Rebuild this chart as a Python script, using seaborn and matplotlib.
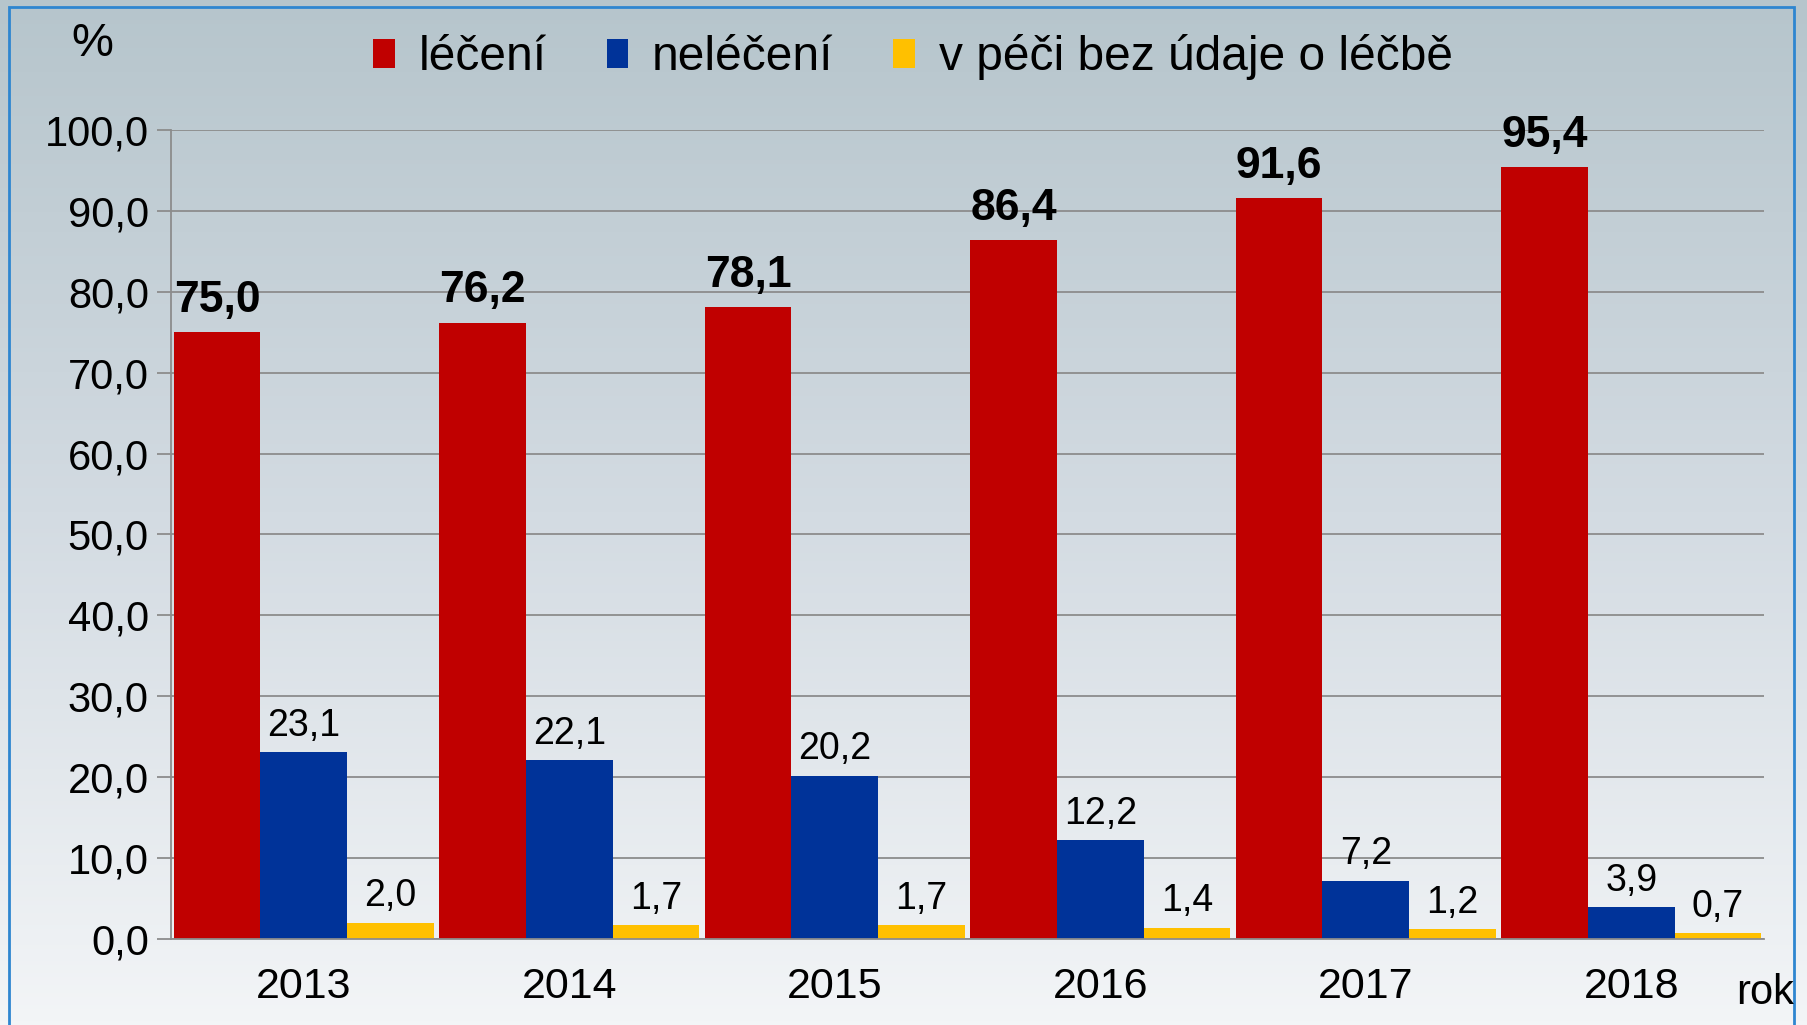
import numpy as np
import pandas as pd
import seaborn as sns
import matplotlib.pyplot as plt
from matplotlib.patches import Rectangle
from matplotlib.colors import LinearSegmentedColormap

# data
roky = ['2013', '2014', '2015', '2016', '2017', '2018']
leceni = [75.0, 76.2, 78.1, 86.4, 91.6, 95.4]
neleceni = [23.1, 22.1, 20.2, 12.2, 7.2, 3.9]
bez_udaje = [2.0, 1.7, 1.7, 1.4, 1.2, 0.7]
serie = ['léčení', 'neléčení', 'v péči bez údaje o léčbě']
barvy = ['#C00000', '#003399', '#FFC000']

df = pd.DataFrame({
    'rok': roky * 3,
    'hodnota': leceni + neleceni + bez_udaje,
    'serie': [s for s in serie for _ in roky],
})

sns.set_theme(style='white')
plt.rcParams['font.family'] = ['Liberation Sans', 'DejaVu Sans']
plt.rcParams['text.color'] = 'black'
plt.rcParams['xtick.color'] = 'black'
plt.rcParams['ytick.color'] = 'black'


def cz(v):
    return f'{v:.1f}'.replace('.', ',')


fig = plt.figure(figsize=(18.08, 10.25), dpi=100)

# background gradient + blue frame
bg = fig.add_axes([0, 0, 1, 1], zorder=-10)
cmap = LinearSegmentedColormap.from_list('bg', ['#b6c5cc', '#d3dbe2', '#f3f5f7'])
grad = np.linspace(0, 1, 256).reshape(-1, 1)
bg.imshow(grad, aspect='auto', cmap=cmap, extent=[0, 1, 0, 1], origin='upper')
bg.add_patch(Rectangle((0.0048, -0.01), 0.9875, 1.003, fill=False,
                       edgecolor='#2e86d0', linewidth=2))
bg.set_xlim(0, 1)
bg.set_ylim(0, 1)
bg.axis('off')

ax = fig.add_axes([0.0946, 0.0839, 0.8811, 0.7893])
ax.set_facecolor('none')

sns.barplot(data=df, x='rok', y='hodnota', hue='serie', palette=barvy,
            width=0.98, saturation=1, linewidth=0, edgecolor='none',
            ax=ax, legend=True)

ax.set_ylim(0, 100)
ax.set_xlim(-0.5, 5.5)
ax.set_yticks(np.arange(0, 101, 10))
ax.set_yticklabels([cz(v) for v in np.arange(0, 101, 10)], fontsize=30)
ax.set_xticks(range(6))
ax.set_xticklabels(roky, fontsize=31)
ax.set_xticks(np.arange(-0.5, 6, 1), minor=True)
ax.tick_params(axis='x', which='major', length=0, pad=20)
ax.tick_params(axis='x', which='minor', length=10, width=1.3, color='#8c8c8c', direction='out')
ax.tick_params(axis='y', length=10, width=1.3, color='#8c8c8c', direction='out', left=True, pad=6)
ax.grid(axis='y', color='#8c8c8c', linewidth=1.3)
ax.set_axisbelow(True)
ax.set_xlabel('')
ax.set_ylabel('')
for s in ['top', 'right']:
    ax.spines[s].set_visible(False)
for s in ['left', 'bottom']:
    ax.spines[s].set_color('#8c8c8c')
    ax.spines[s].set_linewidth(1.3)

# value labels
hodnoty = [leceni, neleceni, bez_udaje]
for i, cont in enumerate(ax.containers):
    if i == 0:
        ax.bar_label(cont, labels=[cz(v) for v in hodnoty[i]], padding=8,
                     fontsize=32, fontweight='bold')
    else:
        ax.bar_label(cont, labels=[cz(v) for v in hodnoty[i]], padding=6,
                     fontsize=27)

# legend at top
h, l = ax.get_legend_handles_labels()
for p in h:
    p.set_edgecolor('none')
ax.legend(h, l, loc='center', bbox_to_anchor=(0.505, 0.944),
          bbox_transform=fig.transFigure, ncol=3, frameon=False,
          fontsize=34.5, handlelength=0.45, handleheight=0.55,
          handletextpad=0.5, columnspacing=1.25)

fig.text(0.051, 0.957, '%', fontsize=34, ha='center', va='center')
fig.text(0.976, 0.031, 'rok', fontsize=30, ha='center', va='center')

fig.savefig('out.png', dpi=100)
